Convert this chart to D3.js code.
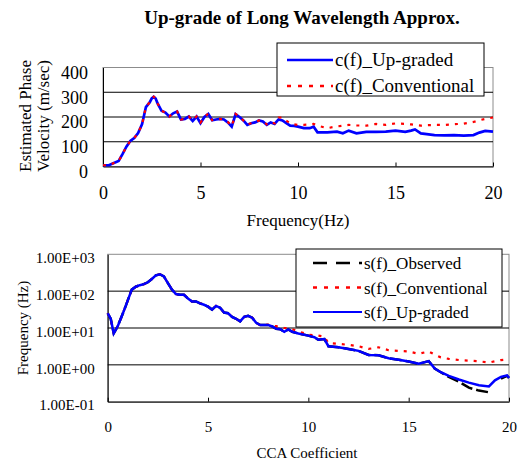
<!DOCTYPE html>
<html>
<head>
<meta charset="utf-8">
<script src="https://cdn.jsdelivr.net/npm/d3@7"></script>
<style>
  body { margin: 0; background: #fff; }
  svg { display: block; }
  text { font-family: "Liberation Serif", "Times New Roman", serif; fill: #000; }
</style>
</head>
<body>
<svg width="519" height="461"></svg>
<script>
// top chart: estimated phase velocity
const freqTop = [0,0.3,0.5,0.8,1.0,1.2,1.4,1.6,1.8,2.0,2.2,2.4,2.5,2.6,2.7,2.8,3.0,3.2,3.4,3.6,3.8,
  4.0,4.2,4.4,4.6,4.8,5.0,5.2,5.4,5.6,5.8,6.0,6.2,6.4,6.6,6.8,7.0,7.2,7.4,7.6,7.8,8.0,8.2,8.4,8.6,8.8,
  9.0,9.2,9.4,9.6,9.8,10.0,10.3,10.6,10.8,11.0,11.5,12.0,12.3,12.6,13.0,13.5,14.0,14.5,15.0,15.5,15.8,
  16.0,16.3,16.6,17.0,17.5,18.0,18.5,19.0,19.3,19.6,20.0];
const cUpgraded = [5,5,12,22,50,80,103,115,135,170,240,260,275,282,275,255,225,218,202,215,222,
  190,192,202,184,202,175,200,212,187,190,192,190,178,161,211,200,186,168,175,178,186,182,168,178,172,
  190,186,175,165,164,161,155,155,161,138,138,141,134,145,134,140,140,141,145,140,145,
  150,134,131,127,126,127,125,127,137,144,141];
const cConventional = [5,5,12,22,50,80,103,115,135,170,240,260,275,282,275,255,225,218,202,215,222,
  190,192,202,186,202,178,200,214,187,190,192,190,180,163,212,202,186,170,175,180,186,184,170,180,174,
  198,198,185,175,170,168,168,170,172,165,155,162,165,168,166,165,172,168,174,172,170,
  168,165,167,168,168,171,173,180,187,192,198];
const topXTicks = [0, 5, 10, 15, 20];
const topYTicks = [0, 100, 200, 300, 400];

// bottom chart: s(f) on a log axis
const freqBot = [0,0.15,0.3,0.4,0.5,0.7,0.9,1.0,1.2,1.4,1.6,1.8,2.0,2.2,2.4,2.6,2.8,3.0,3.2,3.4,3.6,3.8,
  4.0,4.2,4.4,4.6,4.8,5.0,5.2,5.4,5.6,5.8,6.0,6.2,6.4,6.6,6.8,7.0,7.2,7.4,7.6,8.0,8.2,8.4,8.6,8.8,
  9.0,9.2,9.5,10.0,10.3,10.5,10.8,11.0,11.5,12.0,12.5,13.0,13.5,14.0,14.5,15.0,15.5,16.0,16.3,16.6,
  17.0,17.5,18.0,18.5,19.0,19.3,19.6,19.9,20.0];
const sUpgraded = [25.1,17.8,7.2,8.9,11.2,20.9,39.8,56.2,110,132,145,155,174,214,269,288,251,166,110,83.2,79.4,79.4,
  63.1,52.5,52.5,46.8,42.7,38.0,31.6,39.8,35.5,26.3,25.1,20.0,17.8,15.1,20.0,21.4,19.1,13.8,12.0,12.0,11.0,9.5,9.3,7.9,
  9.1,7.9,7.1,6.2,5.6,4.8,5.0,3.2,3.0,2.7,2.4,1.86,1.82,1.51,1.38,1.23,1.07,1.26,0.79,0.63,
  0.50,0.40,0.33,0.28,0.26,0.38,0.47,0.52,0.44];
const sObserved = [25.1,17.8,7.2,8.9,11.2,20.9,39.8,56.2,110,132,145,155,174,214,269,288,251,166,110,83.2,79.4,79.4,
  63.1,52.5,52.5,46.8,42.7,38.0,31.6,39.8,35.5,26.3,25.1,20.0,17.8,15.1,20.0,21.4,19.1,13.8,12.0,12.0,11.0,9.5,9.3,7.9,
  9.1,7.9,7.1,6.2,5.6,4.8,5.0,3.2,3.0,2.7,2.4,1.86,1.82,1.51,1.38,1.23,1.07,1.26,0.79,0.63,
  0.47,0.35,0.24,0.20,0.18,null,0.42,0.50,0.44];
const sConventional = [25.1,17.8,7.2,8.9,11.2,20.9,39.8,56.2,110,132,145,155,174,214,269,288,251,166,110,83.2,79.4,79.4,
  63.1,52.5,52.5,46.8,42.7,38.0,31.6,39.8,35.5,26.3,25.1,20.0,17.8,15.1,20.0,21.4,19.1,13.8,12.0,12.3,11.5,11.2,10.5,10.0,
  10.0,9.3,8.1,6.6,6.3,6.2,5.8,3.9,3.7,3.5,3.2,2.7,3.0,2.5,2.4,2.3,2.0,2.3,1.9,1.6,
  1.45,1.35,1.3,1.25,1.15,1.25,1.35,1.4,1.4];
const botXTicks = [0, 5, 10, 15, 20];
const botYTicks = [0.1, 1, 10, 100, 1000];
const botYLabels = ['1.00E-01', '1.00E+00', '1.00E+01', '1.00E+02', '1.00E+03'];

const svg = d3.select('svg');

svg.append('text')
  .attr('x', 302)
  .attr('y', 24)
  .attr('text-anchor', 'middle')
  .attr('font-size', '19px')
  .attr('font-weight', 'bold')
  .text('Up-grade of Long Wavelength Approx.');

function drawFrame(g, w, h) {
  g.append('rect')
    .attr('x', 0).attr('y', 0)
    .attr('width', w).attr('height', h)
    .attr('fill', 'none')
    .attr('stroke', '#8c8c8c');
}

// ---------- top chart ----------
const t = { left: 103, top: 67.5, w: 390, h: 99 };
const gt = svg.append('g').attr('transform', `translate(${t.left},${t.top})`);
const xt = d3.scaleLinear().domain([0, 20]).range([0, t.w]);
const yt = d3.scaleLinear().domain([0, 400]).range([t.h, 0]);

drawFrame(gt, t.w, t.h);
gt.selectAll('.grid')
  .data(topYTicks.slice(1, -1))
  .enter()
  .append('line')
  .attr('x1', 0).attr('x2', t.w)
  .attr('y1', (d) => yt(d)).attr('y2', (d) => yt(d))
  .attr('stroke', '#000');

const axT = gt.append('g')
  .attr('transform', `translate(0,${t.h})`)
  .call(d3.axisBottom(xt).tickValues(topXTicks).tickSizeInner(-4).tickSizeOuter(0).tickPadding(20));
const ayT = gt.append('g')
  .call(d3.axisLeft(yt).tickValues(topYTicks).tickSize(0).tickPadding(15));
[axT, ayT].forEach((a) => {
  a.select('.domain').attr('stroke', '#000');
  a.selectAll('line').attr('stroke', '#000');
  a.selectAll('text').attr('font-size', '18px');
});
ayT.selectAll('text').attr('dy', '0.6em');

const lineT = d3.line().x((d, i) => xt(freqTop[i])).y((d) => yt(d));
gt.append('path')
  .datum(cUpgraded)
  .attr('d', lineT)
  .attr('fill', 'none')
  .attr('stroke', '#0000ff')
  .attr('stroke-width', 2.7);
gt.append('path')
  .datum(cConventional)
  .attr('d', lineT)
  .attr('fill', 'none')
  .attr('stroke', '#ff0000')
  .attr('stroke-width', 2.2)
  .attr('stroke-dasharray', '3,6');

svg.append('text')
  .attr('x', 298).attr('y', 226)
  .attr('text-anchor', 'middle')
  .attr('font-size', '17px')
  .text('Frequency(Hz)');
svg.append('text')
  .attr('transform', 'translate(31,116) rotate(-90)')
  .attr('text-anchor', 'middle')
  .attr('font-size', '17px')
  .text('Estimated Phase');
svg.append('text')
  .attr('transform', 'translate(49,116) rotate(-90)')
  .attr('text-anchor', 'middle')
  .attr('font-size', '17px')
  .text('Velocity (m/sec)');

// top legend
const legT = svg.append('g').attr('transform', 'translate(277,43)');
legT.append('rect')
  .attr('width', 207).attr('height', 53)
  .attr('fill', '#fff').attr('stroke', '#000');
const legTItems = [
  { name: 'c(f)_Up-graded', color: '#0000ff', dash: null, width: 2.7 },
  { name: 'c(f)_Conventional', color: '#ff0000', dash: '4,7', width: 2.5 }
];
legTItems.forEach((d, i) => {
  const yy = 17 + i * 26;
  legT.append('line')
    .attr('x1', 10).attr('x2', 56)
    .attr('y1', yy).attr('y2', yy)
    .attr('stroke', d.color)
    .attr('stroke-width', d.width)
    .attr('stroke-dasharray', d.dash);
  legT.append('text')
    .attr('x', 58).attr('y', yy + 6)
    .attr('font-size', '19px')
    .text(d.name);
});

// ---------- bottom chart ----------
const b = { left: 107.7, top: 254.3, w: 401.3, h: 147.4 };
const gb = svg.append('g').attr('transform', `translate(${b.left},${b.top})`);
const xb = d3.scaleLinear().domain([0, 20]).range([0, b.w]);
const yb = d3.scaleLog().domain([0.1, 1000]).range([b.h, 0]);

drawFrame(gb, b.w, b.h);
gb.selectAll('.grid')
  .data(botYTicks.slice(1, -1))
  .enter()
  .append('line')
  .attr('x1', 0).attr('x2', b.w)
  .attr('y1', (d) => yb(d)).attr('y2', (d) => yb(d))
  .attr('stroke', '#000');

const axB = gb.append('g')
  .attr('transform', `translate(0,${b.h})`)
  .call(d3.axisBottom(xb).tickValues(botXTicks).tickSizeInner(-4).tickSizeOuter(0).tickPadding(20));
const ayB = gb.append('g')
  .call(d3.axisLeft(yb).tickValues(botYTicks).tickSize(0).tickPadding(13)
    .tickFormat((d, i) => botYLabels[i]));
[axB, ayB].forEach((a) => {
  a.select('.domain').attr('stroke', '#000');
  a.selectAll('line').attr('stroke', '#000');
  a.selectAll('text').attr('font-size', '15px');
});
ayB.selectAll('text').attr('dy', '0.55em');

const lineB = (arr) => d3.line()
  .defined((d) => d != null)
  .x((d, i) => xb(freqBot[i]))
  .y((d) => yb(d))(arr);
gb.append('path')
  .attr('d', lineB(sObserved))
  .attr('fill', 'none')
  .attr('stroke', '#000')
  .attr('stroke-width', 2.5)
  .attr('stroke-dasharray', '12,4');
gb.append('path')
  .attr('d', lineB(sConventional))
  .attr('fill', 'none')
  .attr('stroke', '#ff0000')
  .attr('stroke-width', 2.2)
  .attr('stroke-dasharray', '3,6');
gb.append('path')
  .attr('d', lineB(sUpgraded))
  .attr('fill', 'none')
  .attr('stroke', '#0000ff')
  .attr('stroke-width', 2.5);

svg.append('text')
  .attr('x', 307).attr('y', 458)
  .attr('text-anchor', 'middle')
  .attr('font-size', '15px')
  .text('CCA Coefficient');
svg.append('text')
  .attr('transform', 'translate(28,328) rotate(-90)')
  .attr('text-anchor', 'middle')
  .attr('font-size', '15px')
  .text('Frequency (Hz)');

// bottom legend
const legB = svg.append('g').attr('transform', 'translate(296,249)');
legB.append('rect')
  .attr('width', 206).attr('height', 78)
  .attr('fill', '#fff').attr('stroke', '#000');
const legBItems = [
  { name: 's(f)_Observed', color: '#000', dash: '14,9', width: 2.5 },
  { name: 's(f)_Conventional', color: '#ff0000', dash: '4,7', width: 2.5 },
  { name: 's(f)_Up-graded', color: '#0000ff', dash: null, width: 2 }
];
legBItems.forEach((d, i) => {
  const yy = 14 + i * 24.5;
  legB.append('line')
    .attr('x1', 17).attr('x2', 66)
    .attr('y1', yy).attr('y2', yy)
    .attr('stroke', d.color)
    .attr('stroke-width', d.width)
    .attr('stroke-dasharray', d.dash);
  legB.append('text')
    .attr('x', 68).attr('y', yy + 6)
    .attr('font-size', '17px')
    .text(d.name);
});
</script>
</body>
</html>
